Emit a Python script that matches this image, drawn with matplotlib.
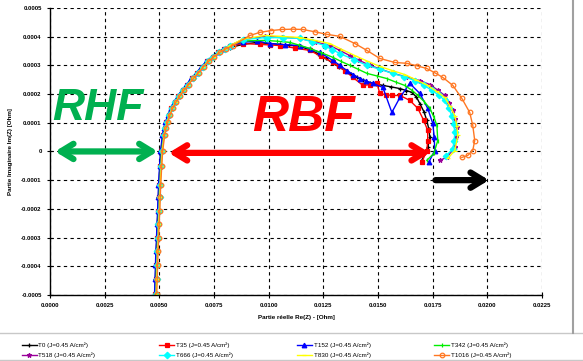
import numpy as np
import matplotlib
matplotlib.use("Agg")
import matplotlib.pyplot as plt
from matplotlib.lines import Line2D
from matplotlib.ticker import FuncFormatter

plt.rcParams['font.family'] = ['Liberation Sans', 'DejaVu Sans']

# --- data (Ohm) -------------------------------------------------------------
# shared low-frequency tail + rising branch
rise_re = [0.00480, 0.00482, 0.00484, 0.00486, 0.00489, 0.00491, 0.00494, 0.00496, 0.00498,
           0.00503, 0.00507, 0.00516, 0.00522, 0.00530, 0.00540, 0.00553, 0.00568, 0.00585,
           0.00604, 0.00626, 0.00648, 0.00672, 0.00694, 0.00717, 0.00742, 0.00768, 0.00795]
rise_im = [-0.000495, -0.000446, -0.000397, -0.000348, -0.000300, -0.000253, -0.000206,
           -0.000160, -0.000118, -0.000049, 0.0, 0.000056, 0.000080, 0.000101, 0.000126,
           0.000150, 0.000172, 0.000192, 0.000213, 0.000233, 0.000255, 0.000275, 0.000295,
           0.000314, 0.000330, 0.000345, 0.000357]

t0_re = [0.00823, 0.00882, 0.00946, 0.01000, 0.01051, 0.01095, 0.01142, 0.01185, 0.01225,
         0.01260, 0.01293, 0.01320, 0.01348, 0.01375, 0.01403, 0.01432, 0.01462, 0.01492,
         0.01522, 0.01560, 0.01600, 0.01630, 0.01654, 0.01675, 0.01691, 0.01710, 0.01723,
         0.01732, 0.01737, 0.01727, 0.01700]
t0_im = [0.000362, 0.000373, 0.000380, 0.000376, 0.000373, 0.000370, 0.000366, 0.000355,
         0.000341, 0.000325, 0.000307, 0.000295, 0.000282, 0.000270, 0.000258, 0.000249,
         0.000240, 0.000235, 0.000230, 0.000225, 0.000219, 0.000212, 0.000206, 0.000190,
         0.000167, 0.000138, 0.000108, 0.000078, 0.000049, 0.000014, -0.000031]

t35_re = [0.00823, 0.00882, 0.00960, 0.01005, 0.01051, 0.01120, 0.01188, 0.01240, 0.01293,
          0.01320, 0.01348, 0.01385, 0.01431, 0.01462, 0.01494, 0.01508, 0.01535, 0.01563,
          0.01600, 0.01645, 0.01682, 0.01709, 0.01727, 0.01727, 0.01723, 0.01700]
t35_im = [0.000366, 0.000376, 0.000373, 0.000371, 0.000369, 0.000360, 0.000352, 0.000331,
          0.000310, 0.000296, 0.000282, 0.000258, 0.000230, 0.000233, 0.000240, 0.000202,
          0.000198, 0.000195, 0.000195, 0.000178, 0.000150, 0.000108, 0.000073, 0.000038,
          0.000003, -0.000038]

t152_re = [0.00823, 0.00882, 0.00946, 0.01005, 0.01075, 0.01142, 0.01190, 0.01234, 0.01293,
           0.01325, 0.01357, 0.01387, 0.01417, 0.01446, 0.01476, 0.01522, 0.01563, 0.01600,
           0.01645, 0.01691, 0.01727, 0.01750, 0.01757, 0.01759, 0.01732]
t152_im = [0.000369, 0.000380, 0.000385, 0.000376, 0.000372, 0.000369, 0.000357, 0.000345,
           0.000317, 0.000300, 0.000282, 0.000268, 0.000254, 0.000245, 0.000237, 0.000223,
           0.000136, 0.000188, 0.000237, 0.000202, 0.000150, 0.000098, 0.000050, 0.000003,
           -0.000038]

t342_re = [0.00823, 0.00882, 0.00983, 0.01040, 0.01097, 0.01140, 0.01188, 0.01240, 0.01293,
           0.01330, 0.01371, 0.01410, 0.01449, 0.01495, 0.01540, 0.01580, 0.01622, 0.01655,
           0.01682, 0.01712, 0.01737, 0.01755, 0.01769, 0.01773, 0.01755, 0.01723]
t342_im = [0.000369, 0.000385, 0.000387, 0.000384, 0.000380, 0.000370, 0.000359, 0.000344,
           0.000328, 0.000314, 0.000300, 0.000286, 0.000272, 0.000263, 0.000254, 0.000242,
           0.000230, 0.000213, 0.000195, 0.000173, 0.000150, 0.000120, 0.000091, 0.000038,
           -0.000007, -0.000031]

t518_re = [0.00823, 0.00882, 0.00983, 0.01060, 0.01142, 0.01210, 0.01280, 0.01325, 0.01371,
           0.01415, 0.01462, 0.01515, 0.01567, 0.01630, 0.01691, 0.01737, 0.01772, 0.01805,
           0.01825, 0.01842, 0.01852, 0.01860, 0.01857, 0.01851, 0.01814, 0.01782]
t518_im = [0.000369, 0.000390, 0.000401, 0.000398, 0.000394, 0.000382, 0.000369, 0.000352,
           0.000334, 0.000317, 0.000300, 0.000286, 0.000272, 0.000260, 0.000247, 0.000233,
           0.000214, 0.000195, 0.000170, 0.000143, 0.000113, 0.000084, 0.000050, 0.000014,
           -0.000021, -0.000031]

t666_re = [0.00823, 0.00882, 0.00992, 0.01065, 0.01142, 0.01200, 0.01257, 0.01290, 0.01326,
           0.01390, 0.01449, 0.01510, 0.01567, 0.01620, 0.01668, 0.01710, 0.01746, 0.01778,
           0.01805, 0.01823, 0.01837, 0.01846, 0.01851, 0.01848, 0.01842, 0.01810]
t666_im = [0.000369, 0.000390, 0.000397, 0.000396, 0.000394, 0.000382, 0.000369, 0.000355,
           0.000341, 0.000320, 0.000300, 0.000286, 0.000272, 0.000260, 0.000247, 0.000230,
           0.000213, 0.000196, 0.000178, 0.000152, 0.000125, 0.000096, 0.000066, 0.000038,
           0.000010, -0.000017]

t830_re = [0.00823, 0.00882, 0.00983, 0.01060, 0.01142, 0.01210, 0.01280, 0.01335, 0.01394,
           0.01450, 0.01508, 0.01565, 0.01622, 0.01675, 0.01727, 0.01768, 0.01805, 0.01830,
           0.01851, 0.01860, 0.01865, 0.01851, 0.01819]
t830_im = [0.000369, 0.000392, 0.000404, 0.000401, 0.000397, 0.000387, 0.000376, 0.000355,
           0.000334, 0.000315, 0.000296, 0.000282, 0.000268, 0.000249, 0.000230, 0.000209,
           0.000188, 0.000157, 0.000125, 0.000090, 0.000056, 0.000003, -0.000024]

t1016_re = [0.00836, 0.00914, 0.00960, 0.01010, 0.01060, 0.01110, 0.01156, 0.01210, 0.01266,
            0.01325, 0.01394, 0.01449, 0.01508, 0.01577, 0.01632, 0.01680, 0.01723, 0.01760,
            0.01796, 0.01842, 0.01883, 0.01919, 0.01933, 0.01942, 0.01933, 0.01910, 0.01883]
t1016_im = [0.000369, 0.000404, 0.000415, 0.000421, 0.000425, 0.000426, 0.000425, 0.000417,
            0.000408, 0.000401, 0.000376, 0.000352, 0.000324, 0.000310, 0.000307, 0.000298,
            0.000289, 0.000274, 0.000258, 0.000230, 0.000185, 0.000136, 0.000091, 0.000038,
            0.000003, -0.000014, -0.000021]

labels = ['T0', 'T35', 'T152', 'T342', 'T518', 'T666', 'T830', 'T1016']
series = [(t0_re, t0_im), (t35_re, t35_im), (t152_re, t152_im), (t342_re, t342_im),
          (t518_re, t518_im), (t666_re, t666_im), (t830_re, t830_im), (t1016_re, t1016_im)]

x_ticks = np.arange(0.0, 0.02251, 0.0025)
y_ticks = np.arange(-0.0005, 0.00051, 0.0001)

# styles
colors = ['#000000', '#FF0000', '#0000FF', '#00EE00', '#990099', '#00FFFF', '#FFFF00', '#FF7722']
markers = ['+', 's', '^', '|', '*', 'D', '_', 'o']
shifts = [0.0, 0.00002, -0.00002, 0.00003, 0.00004, 0.00005, 0.00006, 0.00008]

fig = plt.figure(figsize=(5.83, 3.61), dpi=100)
ax = fig.add_axes([0.0858, 0.183, 0.844, 0.795])

handles = []
for i, (lab, (re, im)) in enumerate(zip(labels, series)):
    xs = [r + shifts[i] for r in rise_re] + list(re)
    ys = list(rise_im) + list(im)
    mfc = 'none' if markers[i] == 'o' else colors[i]
    h, = ax.plot(xs, ys, color=colors[i], lw=1.0, marker=markers[i], ms=3.3,
                 mfc=mfc, mec=colors[i], mew=0.9,
                 label=f'{lab} (J=0.45 A/cm\u00b2)')
    handles.append(h)

ax.set_xlim(0.0, 0.0225)
ax.set_ylim(-0.0005, 0.0005)
ax.set_xticks(x_ticks)
ax.set_yticks(y_ticks)
ax.xaxis.set_major_formatter(FuncFormatter(lambda v, p: f'{v:.4f}'))
ax.yaxis.set_major_formatter(FuncFormatter(lambda v, p: '0' if abs(v) < 1e-9 else f'{v:.4f}'))
for lbl in ax.get_xticklabels() + ax.get_yticklabels():
    lbl.set_fontweight('bold')
ax.tick_params(labelsize=4.3, direction='inout', length=4, width=0.8, pad=4)
ax.grid(True, color='black', linestyle=(0, (3, 3)), lw=0.8)
ax.spines['top'].set_visible(False)
ax.spines['right'].set_visible(False)
ax.spines['left'].set_linewidth(1.0)
ax.spines['bottom'].set_linewidth(1.0)

ax.set_xlabel('Partie r\u00e9elle Re(Z) - [Ohm]', fontsize=4.5, fontweight='bold', labelpad=5)
ax.set_ylabel('Partie Imaginaire Im(Z) [Ohm]', fontsize=4.5, fontweight='bold', labelpad=6)

# annotations
ax.annotate('', xy=(0.0001, 0.0), xytext=(0.00505, 0.0),
            arrowprops=dict(arrowstyle='<->, head_length=0.9, head_width=0.55',
                            color='#00B050', lw=4.5))
ax.text(0.0022, 0.000148, 'RHF', color='#00B050', fontsize=32, fontweight='bold',
        fontstyle='italic', ha='center', va='center')
ax.annotate('', xy=(0.0053, -0.000005), xytext=(0.0175, -0.000005),
            arrowprops=dict(arrowstyle='<->, head_length=0.9, head_width=0.55',
                            color='#FF0000', lw=4.5))
ax.text(0.01160, 0.000118, 'RBF', color='#FF0000', fontsize=36, fontweight='bold',
        fontstyle='italic', ha='center', va='center')
ax.annotate('', xy=(0.0202, -0.0001), xytext=(0.0175, -0.0001),
            arrowprops=dict(arrowstyle='->, head_length=0.9, head_width=0.55',
                            color='#000000', lw=4.5))

# legend below with grey top/bottom rules
order = [0, 4, 1, 5, 2, 6, 3, 7]
leg = fig.legend([handles[k] for k in order], [handles[k].get_label() for k in order],
                 loc='lower left', bbox_to_anchor=(0.037, 0.008), ncol=4, fontsize=4.5,
                 frameon=False, handlelength=2.4, handletextpad=0.3, columnspacing=10.2,
                 borderaxespad=0.0, borderpad=0.0, labelspacing=0.75)
fig.add_artist(Line2D([0, 1], [0.077, 0.077], color='#C8C8C8', lw=1.0, transform=fig.transFigure))
fig.add_artist(Line2D([0, 1], [0.004, 0.004], color='#C8C8C8', lw=1.0, transform=fig.transFigure))
fig.add_artist(Line2D([0.983, 0.983], [0.077, 1.0], color='#A0A0A0', lw=1.5, transform=fig.transFigure))

fig.savefig('out.png', dpi=100)
